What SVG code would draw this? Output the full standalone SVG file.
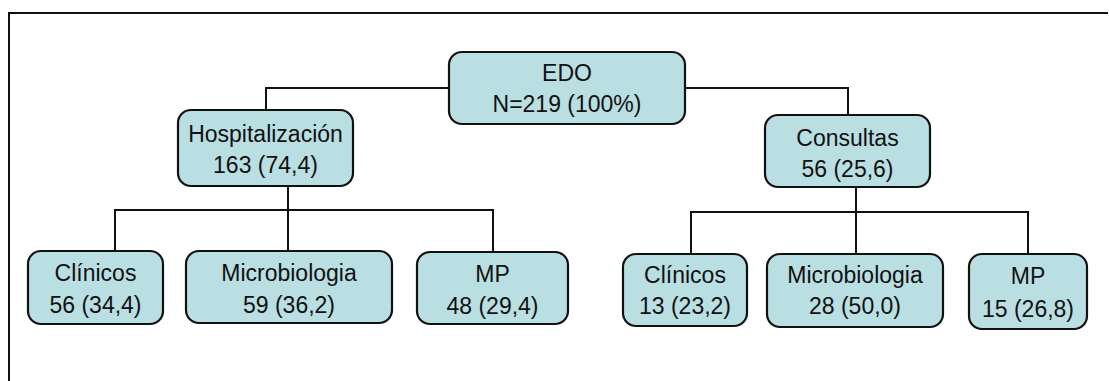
<svg xmlns="http://www.w3.org/2000/svg" width="1109" height="381" viewBox="0 0 1109 381">
  <style>
    .box { fill: #B9DFE3; stroke: #111; stroke-width: 2.2; }
    .lbl { font-family: "Liberation Sans", Arial, sans-serif; font-size: 23px; fill: #111; text-anchor: middle; }
    .wire { fill: none; stroke: #111; stroke-width: 2; }
  </style>
  <rect width="1109" height="381" fill="#fff"/>

  <!-- outer frame (top and left edges) -->
  <path class="wire" d="M9,381 V13 H1108"/>

  <g id="connectors">
    <!-- root to level 1 -->
    <path class="wire" d="M449,88 H266 V110"/>
    <path class="wire" d="M685,88 H848 V115"/>
    <!-- Hospitalización branch -->
    <path class="wire" d="M288,186 V251"/>
    <path class="wire" d="M115,251 V210 H493 V252"/>
    <!-- Consultas branch -->
    <path class="wire" d="M856,187 V253"/>
    <path class="wire" d="M691,254 V212 H1028 V254"/>
  </g>

  <g id="edo">
    <rect class="box" x="449" y="52" width="236" height="72" rx="13"/>
    <text class="lbl" x="567" y="81">EDO</text>
    <text class="lbl" x="567" y="112">N=219 (100%)</text>
  </g>

  <g id="hospitalizacion">
    <rect class="box" x="178" y="110" width="175" height="76" rx="13"/>
    <text class="lbl" x="265.5" y="141.5">Hospitalización</text>
    <text class="lbl" x="265.5" y="173">163 (74,4)</text>
  </g>

  <g id="consultas">
    <rect class="box" x="765" y="115" width="165" height="72" rx="13"/>
    <text class="lbl" x="847.5" y="146">Consultas</text>
    <text class="lbl" x="847.5" y="177">56 (25,6)</text>
  </g>

  <g id="hosp-clinicos">
    <rect class="box" x="28" y="251" width="135" height="73" rx="13"/>
    <text class="lbl" x="95.5" y="281">Clínicos</text>
    <text class="lbl" x="95.5" y="313">56 (34,4)</text>
  </g>

  <g id="hosp-microbiologia">
    <rect class="box" x="186" y="251" width="206" height="72" rx="13"/>
    <text class="lbl" x="289" y="281">Microbiologia</text>
    <text class="lbl" x="289" y="313">59 (36,2)</text>
  </g>

  <g id="hosp-mp">
    <rect class="box" x="417" y="252" width="151" height="72" rx="13"/>
    <text class="lbl" x="492.5" y="282">MP</text>
    <text class="lbl" x="492.5" y="314">48 (29,4)</text>
  </g>

  <g id="cons-clinicos">
    <rect class="box" x="623" y="254" width="124" height="72" rx="13"/>
    <text class="lbl" x="685" y="283">Clínicos</text>
    <text class="lbl" x="685" y="314">13 (23,2)</text>
  </g>

  <g id="cons-microbiologia">
    <rect class="box" x="767" y="254" width="176" height="73" rx="13"/>
    <text class="lbl" x="855" y="283">Microbiologia</text>
    <text class="lbl" x="855" y="314">28 (50,0)</text>
  </g>

  <g id="cons-mp">
    <rect class="box" x="969" y="254" width="118" height="75" rx="13"/>
    <text class="lbl" x="1028" y="284">MP</text>
    <text class="lbl" x="1028" y="317">15 (26,8)</text>
  </g>
</svg>
